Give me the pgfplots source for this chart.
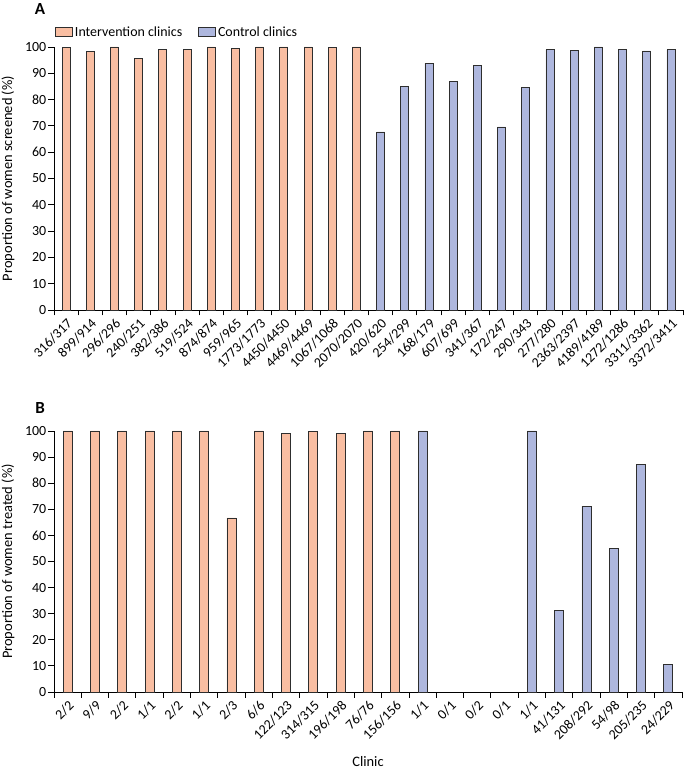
\documentclass[border=0pt]{standalone}
\usepackage{fontspec}
\setmainfont{Carlito}
\usepackage{pgfplots}
\pgfplotsset{compat=1.18}
\definecolor{interv}{HTML}{F9BEA2}
\definecolor{ctrl}{HTML}{AEB7DE}
\definecolor{edge}{HTML}{2E2E2E}
\newcommand{\fs}{\fontsize{14}{16}\selectfont}
\newcommand{\fl}{\fontsize{14.5}{16}\selectfont}
\begin{document}
\begin{tikzpicture}
\useasboundingbox (0bp,0bp) rectangle (685bp,771bp);
\pgfplotsset{
  common/.style={
    scale only axis,
    axis lines*=left,
    axis line style={-, line width=0.9bp, black},
    ymin=0, ymax=100,
    ytick={0,10,...,100},
    tick align=outside,
    major tick length=5.5bp,
    tick style={line width=0.9bp, black},
    x tick label as interval,
    xticklabel style={rotate=45, anchor=north east, inner sep=1.5bp, font=\fs},
    yticklabel style={font=\fs, inner sep=2bp},
    /pgf/number format/assume math mode=true,
    every axis y label/.style={at={(axis description cs:0,0.5)}, xshift=-46bp, rotate=90, anchor=center, font=\fl},
    ybar, bar shift=0pt,
    clip=false,
  },
  ibar/.style={fill=interv, draw=edge, line width=0.8bp},
  cbar/.style={fill=ctrl, draw=edge, line width=0.8bp},
}
% Panel A
\begin{axis}[common,
  at={(54bp,461bp)}, anchor=south west,
  width=629bp, height=263bp,
  xmin=-0.5, xmax=25.5,
  xtick={-0.5,0.5,...,25.5},
  xticklabels={316/317,899/914,296/296,240/251,382/386,519/524,874/874,959/965,1773/1773,4450/4450,4469/4469,1067/1068,2070/2070,420/620,254/299,168/179,607/699,341/367,172/247,290/343,277/280,2363/2397,4189/4189,1272/1286,3311/3362,3372/3411},
  ylabel={Proportion of women screened (\%)},
  bar width=8bp,
  legend style={at={(0,1)}, anchor=south west, xshift=1bp, yshift=7bp, draw=none, fill=none, legend columns=2, font=\fs, inner sep=0pt, /tikz/every even column/.append style={column sep=14bp}},
  legend cell align=left,
]
\addplot[ibar, legend image code/.code={\draw[fill=interv, draw=edge, line width=0.8bp] (0bp,-4.5bp) rectangle (17bp,4.5bp);}] coordinates {(0,99.7)(1,98.4)(2,100)(3,95.6)(4,99.0)(5,99.0)(6,100)(7,99.4)(8,100)(9,100)(10,100)(11,99.9)(12,100)};
\addlegendentry{Intervention clinics}
\addplot[cbar, legend image code/.code={\draw[fill=ctrl, draw=edge, line width=0.8bp] (0bp,-4.5bp) rectangle (17bp,4.5bp);}] coordinates {(13,67.7)(14,84.9)(15,93.9)(16,86.8)(17,92.9)(18,69.6)(19,84.5)(20,98.9)(21,98.6)(22,100)(23,98.9)(24,98.5)(25,98.9)};
\addlegendentry{Control clinics}
\end{axis}
\node[font=\bfseries\fontsize{17}{17}\selectfont] at (40bp,762bp) {A};
% Panel B
\begin{axis}[common,
  at={(54bp,79bp)}, anchor=south west,
  width=628bp, height=261bp,
  xmin=-0.5, xmax=22.5,
  xtick={-0.5,0.5,...,22.5},
  xticklabels={2/2,9/9,2/2,1/1,2/2,1/1,2/3,6/6,122/123,314/315,196/198,76/76,156/156,1/1,0/1,0/2,0/1,1/1,41/131,208/292,54/98,205/235,24/229},
  ylabel={Proportion of women treated (\%)},
  xlabel={Clinic},
  xlabel style={at={(axis description cs:0.5,0)}, yshift=-70bp, anchor=center, font=\fl},
  bar width=9bp,
]
\addplot[ibar] coordinates {(0,100)(1,100)(2,100)(3,100)(4,100)(5,100)(6,66.7)(7,100)(8,99.2)(9,99.7)(10,99.0)(11,100)(12,100)};
\addplot[cbar] coordinates {(13,100)(17,100)(18,31.3)(19,71.2)(20,55.1)(21,87.2)(22,10.5)};
\end{axis}
\node[font=\bfseries\fontsize{17}{17}\selectfont] at (40bp,363bp) {B};
\end{tikzpicture}
\end{document}
